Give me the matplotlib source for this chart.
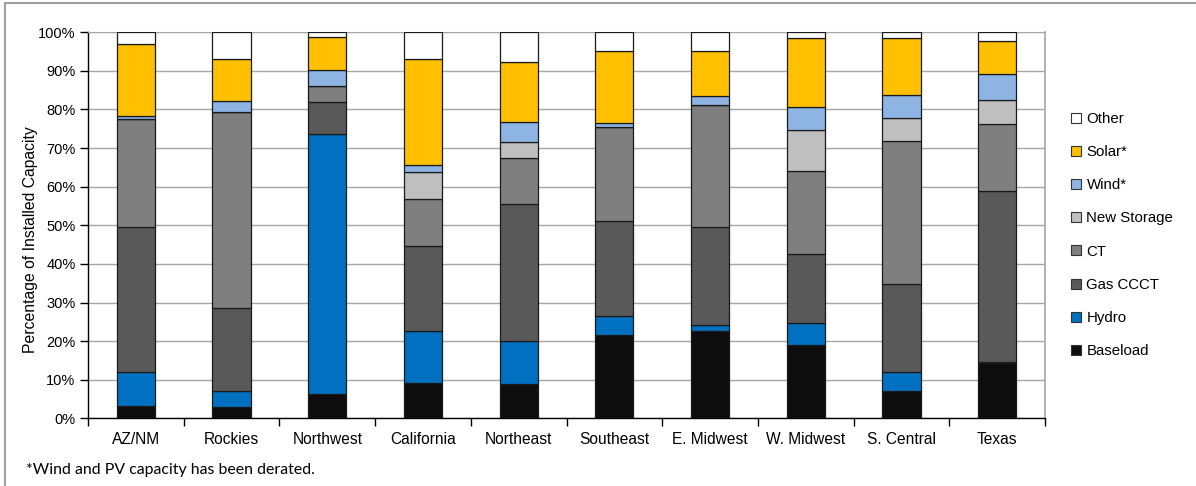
import numpy as np
import matplotlib
matplotlib.use('Agg')
import matplotlib.pyplot as plt
from matplotlib.lines import Line2D

plt.rcParams['font.family'] = ['Liberation Sans', 'DejaVu Sans']

regions = ['AZ/NM', 'Rockies', 'Northwest', 'California', 'Northeast',
           'Southeast', 'E. Midwest', 'W. Midwest', 'S. Central', 'Texas']

# cumulative tops (%), then turned into segment sizes
tops_baseload = [3.2, 2.9, 6.3, 9.2, 8.9, 21.5, 22.7, 19.0, 7.0, 14.2]
tops_hydro = [11.9, 7.2, 73.6, 22.5, 19.9, 26.6, 24.2, 24.6, 12.0, 14.5]
tops_gas = [49.5, 28.6, 82.0, 44.6, 55.5, 51.1, 49.5, 42.6, 34.9, 58.9]
tops_ct = [77.5, 79.4, 86.1, 56.9, 67.4, 75.4, 81.2, 64.1, 71.8, 76.2]
tops_storage = [77.5, 79.4, 86.1, 63.7, 71.7, 75.4, 81.2, 74.6, 77.7, 82.5]
tops_wind = [78.4, 82.3, 90.2, 65.7, 76.8, 76.4, 83.4, 80.6, 83.7, 89.2]
tops_solar = [96.9, 93.2, 98.9, 93.2, 92.3, 95.2, 95.2, 98.4, 98.4, 97.8]
tops_other = [100] * 10

series_names = ['Baseload', 'Hydro', 'Gas CCCT', 'CT', 'New Storage',
                'Wind*', 'Solar*', 'Other']
colors = ['#0D0D0D', '#0070C0', '#595959', '#7F7F7F', '#BFBFBF',
          '#8EB4E3', '#FFC000', '#FFFFFF']

tops = np.array([tops_baseload, tops_hydro, tops_gas, tops_ct, tops_storage,
                 tops_wind, tops_solar, tops_other])
sizes = np.diff(np.vstack([np.zeros(len(regions)), tops]), axis=0)

fig = plt.figure(figsize=(11.96, 4.86), dpi=100)
ax = fig.add_axes([88 / 1196, 1 - 418.3 / 486, (1045 - 88) / 1196, 386 / 486])

x = np.arange(len(regions))
bottom = np.zeros(len(regions))
handles = []
for name, col, sz in zip(series_names, colors, sizes):
    ax.bar(x, sz, 0.4, bottom=bottom, color=col, edgecolor='#1a1a1a',
           linewidth=0.9, zorder=3)
    bottom += sz
    handles.append(Line2D([], [], marker='s', linestyle='none', markersize=7,
                          markerfacecolor=col, markeredgecolor='#333333',
                          markeredgewidth=0.8, label=name))

ax.set_xlim(-0.5, len(regions) - 0.5)
ax.set_ylim(0, 100)
ax.set_yticks(np.arange(0, 101, 10))
ax.set_yticklabels([f'{v}%' for v in range(0, 101, 10)], fontsize=10.5)
ax.set_xticks(x)
ax.set_xticklabels(regions, fontsize=11.2)
ax.set_xticks(np.arange(-0.5, len(regions), 1), minor=True)
ax.tick_params(axis='x', which='major', length=0, pad=10)
ax.tick_params(axis='x', which='minor', length=6, width=1, direction='out')
ax.tick_params(axis='y', length=6, width=1, direction='out', pad=3)
ax.grid(axis='y', color='#A6A6A6', linewidth=1, zorder=0)
ax.set_axisbelow(True)

for s in ['left', 'bottom']:
    ax.spines[s].set_color('#000000')
    ax.spines[s].set_linewidth(1)
ax.spines['top'].set_color('#A6A6A6')
ax.spines['right'].set_color('#A6A6A6')
ax.spines['right'].set_linewidth(1.2)

ax.set_ylabel('Percentage of Installed Capacity', fontsize=11.3)
ax.yaxis.set_label_coords(-0.052, 0.464)

leg = fig.legend(handles=handles[::-1], loc='center left',
                 bbox_to_anchor=(1064 / 1196, 1 - 235 / 486), frameon=False,
                 fontsize=10.8, handlelength=0.8, handletextpad=0.3,
                 labelspacing=1.28, borderaxespad=0)

fig.text(26 / 1196, 1 - 470 / 486, '*Wind and PV capacity has been derated.',
         fontsize=11.4, family=['Lato', 'DejaVu Sans'], va='center')

# chart area border
fig.add_artist(Line2D([5 / 1196, 5 / 1196], [0, 1 - 3 / 486],
                      transform=fig.transFigure, color='#A0A0A0', lw=1.5))
fig.add_artist(Line2D([5 / 1196, 1], [1 - 3 / 486, 1 - 3 / 486],
                      transform=fig.transFigure, color='#A0A0A0', lw=1.5))

fig.savefig('out.png', dpi=100)
